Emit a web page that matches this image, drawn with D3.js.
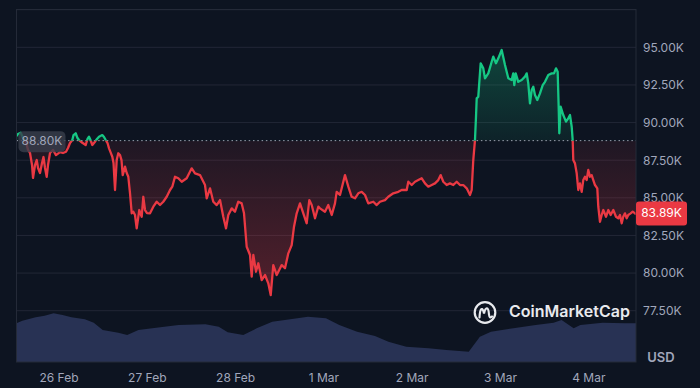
<!DOCTYPE html>
<html><head><meta charset="utf-8">
<script src="https://cdn.jsdelivr.net/npm/d3@7"></script>
<style>
html,body{margin:0;padding:0;background:#0d1421;}
svg{display:block;font-family:Inter,"Noto Sans",sans-serif;}
</style></head><body>
<svg id="chart" width="700" height="388"></svg>
<script>
// ---- data (hours from 26 Feb 00:00, price in thousand USD) ----
const priceHours = [-11.42,-11.01,-10.27,-9.65,-8.83,-8.29,-7.75,-7.20,-6.93,-6.39,-5.93,-5.57,-5.03,-4.48,-4.08,-3.67,-3.21,-2.85,-2.31,-1.49,-0.68,0.41,1.22,2.04,2.58,3.13,3.75,4.08,4.67,5.16,5.57,6.47,7.39,7.88,8.29,8.70,9.19,9.92,10.46,11.01,11.90,12.37,12.83,13.32,13.73,14.13,14.62,14.95,15.36,15.82,16.25,16.72,17.12,17.45,18.07,18.54,18.97,19.43,19.90,20.33,20.79,21.25,21.96,22.61,23.05,23.51,24.05,24.87,25.77,26.69,27.59,28.48,29.41,30.31,30.93,31.66,32.56,33.49,34.84,36.20,37.10,38.46,39.82,40.28,41.18,42.07,43.00,43.90,44.79,45.53,46.15,47.08,47.97,48.87,49.79,50.42,51.15,52.05,52.51,52.95,53.68,54.31,55.23,56.13,57.02,57.68,58.38,59.31,60.67,61.56,62.46,63.38,64.01,64.74,65.64,66.54,67.46,68.17,68.82,69.72,70.61,71.08,72.43,73.33,74.26,75.15,75.61,76.51,77.87,78.77,79.69,80.59,81.49,82.41,83.31,84.20,85.56,86.49,87.38,88.74,89.64,91.00,92.36,93.28,94.64,95.08,96.00,96.90,97.79,98.72,99.62,100.51,101.44,102.33,103.23,103.88,104.59,105.51,106.41,107.31,108.23,109.13,110.02,110.95,111.85,112.31,112.74,113.20,113.48,113.67,114.10,114.75,115.46,115.92,116.82,117.74,118.18,118.91,119.54,120.46,121.36,122.26,123.18,123.61,123.89,124.27,124.97,125.90,126.79,127.26,127.69,128.15,128.62,129.05,129.51,130.14,130.87,131.61,132.23,133.13,134.05,134.68,135.22,135.68,135.95,136.12,136.50,137.20,137.94,138.56,139.03,139.49,139.76,139.92,140.38,140.85,141.28,141.74,142.21,142.64,143.10,143.56,144.00,144.46,144.92,145.36,145.82,146.45,146.72,147.18,147.64,148.08,148.81,149.44,150.09,150.80,151.53,152.15,152.61,153.08,153.50,153.97,154.44,154.87,155.52,156.07,156.69,156.97];
const pricesK = [89.11,89.24,89.33,88.97,88.71,88.18,87.98,87.18,86.32,87.18,87.51,86.98,86.65,87.31,87.71,86.98,86.40,87.18,87.98,88.18,87.84,88.04,87.98,88.06,88.31,88.64,88.84,89.17,89.29,88.97,88.84,88.66,88.51,88.91,89.06,88.84,88.51,88.73,88.91,89.06,89.17,89.04,88.84,88.64,88.29,88.04,87.73,87.31,85.52,87.51,87.96,87.84,87.51,86.51,87.07,86.65,86.40,85.32,83.97,84.08,83.86,82.97,84.19,83.74,85.07,84.19,83.99,83.97,84.41,84.74,84.52,84.74,85.07,85.52,85.74,86.40,86.30,86.07,86.30,86.96,86.63,86.51,85.85,84.97,85.63,84.74,84.52,84.85,83.74,82.97,83.86,84.30,84.08,84.74,84.63,83.97,81.75,81.20,79.76,81.20,80.09,80.65,79.54,79.87,79.32,78.54,80.53,79.87,80.53,80.32,81.31,81.86,83.08,83.97,84.63,83.97,83.31,84.85,84.52,83.64,84.41,84.30,84.08,84.52,83.86,84.63,85.40,85.19,86.51,85.74,85.07,84.97,85.30,85.40,85.19,84.63,84.74,84.52,84.74,84.85,85.07,85.30,85.40,85.52,85.52,86.07,85.85,86.07,86.18,86.30,85.96,85.74,85.85,85.96,86.18,86.51,86.07,85.85,85.96,85.85,86.07,85.85,85.85,85.63,85.19,85.52,87.51,88.84,90.39,91.61,91.72,93.94,93.60,92.94,93.27,94.04,94.38,93.94,94.27,94.82,93.82,92.94,92.83,93.27,92.49,93.27,92.71,92.83,93.05,93.27,92.61,91.28,92.16,92.38,91.83,91.50,91.94,92.49,92.71,93.16,93.27,93.27,93.60,93.38,91.05,89.29,91.05,90.50,90.06,90.28,90.50,89.72,88.84,87.51,87.29,86.63,85.52,85.96,85.40,86.18,86.40,86.18,86.85,86.40,86.51,86.18,85.85,85.63,84.41,83.41,83.86,84.19,83.74,84.19,83.86,84.19,83.74,83.64,83.86,83.31,83.74,83.97,83.64,83.86,83.97,84.08,83.97,83.89];
const volumeHours = [-11.42,-9.84,-6.20,-3.78,-1.33,1.09,3.51,7.15,9.58,12.01,16.25,18.67,21.72,26.57,32.64,39.93,43.56,45.99,50.23,53.87,58.11,62.98,67.81,72.68,76.32,81.16,86.02,89.67,94.52,100.59,105.43,111.50,114.54,117.55,123.64,129.70,134.57,136.74,140.03,141.85,147.91,153.97,156.97];
const volumesB = [44.7,47.7,51.6,53.4,56.2,54.2,51.6,49.3,45.3,36.9,33.8,31.2,36.9,39.6,42.7,43.5,40.7,34.3,31.2,38.9,46.5,49.3,52.3,50.4,42.7,35.0,30.0,23.4,17.7,15.8,13.8,11.9,29.2,35.0,38.9,42.7,45.3,48.5,38.9,42.7,45.3,44.7,44.7];
const dayTicks = ["2025-02-26","2025-02-27","2025-02-28","2025-03-01","2025-03-02","2025-03-03","2025-03-04"];
const priceTicksK = [77.5,80,82.5,85,87.5,90,92.5,95];
const gridTicksK = [77.5,80,82.5,85,87.5,90,92.5,95,97.5];
const baselineK = 88.80;
const lastPriceK = 83.89;
const currencyLabel = "USD";
const brandName = "CoinMarketCap";

// ---- layout ----
const plot = {left:16.5, right:636, top:9.5, bottom:362};
const GREEN = "#16c784", RED = "#ea3943", TXT = "#a1a7bb";
const base = Date.UTC(2025,1,26);
const toDate = h => new Date(base + h*3600e3);

const x = d3.scaleUtc().domain([toDate(-11.42), toDate(156.97)]).range([plot.left, plot.right]);
const y = d3.scaleLinear().domain([77.5, 97.5]).range([310.7, 9.7]);
const yVol = d3.scaleLinear().domain([0, 60]).range([plot.bottom, 310]);

const n = Math.min(priceHours.length, pricesK.length);
const data = d3.range(n).map(i => ({t: toDate(priceHours[i]), v: pricesK[i]}));
const vdata = d3.range(Math.min(volumeHours.length, volumesB.length)).map(i => ({t: toDate(volumeHours[i]), v: volumesB[i]}));

const svg = d3.select("#chart");
svg.append("rect").attr("width",700).attr("height",388).attr("fill","#0d1421");

const defs = svg.append("defs");
const by = y(baselineK);
defs.append("clipPath").attr("id","above").append("rect")
  .attr("x",plot.left).attr("y",plot.top).attr("width",plot.right-plot.left).attr("height",by-plot.top);
defs.append("clipPath").attr("id","below").append("rect")
  .attr("x",plot.left).attr("y",by).attr("width",plot.right-plot.left).attr("height",plot.bottom-by);

const gG = defs.append("linearGradient").attr("id","gfill").attr("gradientUnits","userSpaceOnUse")
  .attr("x1",0).attr("x2",0).attr("y1",y(95)).attr("y2",by);
gG.append("stop").attr("offset",0).attr("stop-color",GREEN).attr("stop-opacity",0.28);
gG.append("stop").attr("offset",1).attr("stop-color",GREEN).attr("stop-opacity",0.08);
const gR = defs.append("linearGradient").attr("id","rfill").attr("gradientUnits","userSpaceOnUse")
  .attr("x1",0).attr("x2",0).attr("y1",by).attr("y2",y(78.5));
gR.append("stop").attr("offset",0).attr("stop-color",RED).attr("stop-opacity",0.08);
gR.append("stop").attr("offset",1).attr("stop-color",RED).attr("stop-opacity",0.32);

// gridlines
svg.append("g").selectAll("line").data(gridTicksK).join("line")
  .attr("x1",plot.left).attr("x2",plot.right)
  .attr("y1",d=>y(d)).attr("y2",d=>y(d))
  .attr("stroke","#222736").attr("stroke-width",1);

// volume
svg.append("path").datum(vdata)
  .attr("d", d3.area().x(d=>x(d.t)).y0(plot.bottom).y1(d=>yVol(d.v)))
  .attr("fill","#283254");

// fills
const area = d3.area().x(d=>x(d.t)).y0(by).y1(d=>y(d.v));
svg.append("path").datum(data).attr("d",area).attr("fill","url(#gfill)").attr("clip-path","url(#above)");
svg.append("path").datum(data).attr("d",area).attr("fill","url(#rfill)").attr("clip-path","url(#below)");

// baseline
svg.append("line").attr("x1",plot.left).attr("x2",plot.right).attr("y1",by).attr("y2",by)
  .attr("stroke","#9aa0ae").attr("stroke-width",1).attr("stroke-dasharray","1.5,2.8");

// price line
const line = d3.line().x(d=>x(d.t)).y(d=>y(d.v));
svg.append("path").datum(data).attr("d",line).attr("fill","none").attr("stroke",GREEN)
  .attr("stroke-width",2.3).attr("stroke-linejoin","round").attr("clip-path","url(#above)");
svg.append("path").datum(data).attr("d",line).attr("fill","none").attr("stroke",RED)
  .attr("stroke-width",2.3).attr("stroke-linejoin","round").attr("clip-path","url(#below)");

// frame
svg.append("rect").attr("x",plot.left).attr("y",plot.top)
  .attr("width",plot.right-plot.left).attr("height",plot.bottom-plot.top)
  .attr("fill","none").attr("stroke","#242a38").attr("stroke-width",1);

// y axis
const yAxis = svg.append("g").attr("transform",`translate(${plot.right},0)`)
  .call(d3.axisRight(y).tickValues(priceTicksK).tickSize(0).tickPadding(7)
    .tickFormat(d => d.toFixed(2) + "K"));
yAxis.select(".domain").remove();
yAxis.selectAll("text").attr("fill",TXT).attr("font-size",12).attr("font-family","Inter,sans-serif");

// x axis
const xAxis = svg.append("g").attr("transform",`translate(0,${plot.bottom})`)
  .call(d3.axisBottom(x).tickValues(dayTicks.map(s=>new Date(s+"T00:00:00Z")))
    .tickSize(0).tickPadding(11).tickFormat(d3.utcFormat("%-d %b")));
xAxis.select(".domain").remove();
xAxis.selectAll("text").attr("fill",TXT).attr("font-size",12).attr("font-family","Inter,sans-serif");

// USD label
svg.append("text").attr("x",661).attr("y",358).attr("text-anchor","middle")
  .attr("dominant-baseline","middle").attr("fill",TXT).attr("font-size",13).attr("font-weight",600)
  .text(currencyLabel);

// baseline label (left)
svg.append("rect").attr("x",18.5).attr("y",by-9.5).attr("width",47).attr("height",21).attr("rx",5)
  .attr("fill","rgba(58,63,76,0.8)");
svg.append("text").attr("x",42).attr("y",by+1).attr("text-anchor","middle").attr("dominant-baseline","middle")
  .attr("fill",TXT).attr("font-size",12).text(baselineK.toFixed(2)+"K");

// last price label (right)
const ly = y(lastPriceK);
svg.append("rect").attr("x",plot.right).attr("y",ly-13).attr("width",51).attr("height",24).attr("rx",3)
  .attr("fill",RED);
svg.append("text").attr("x",plot.right+25.5).attr("y",ly-0.5).attr("text-anchor","middle").attr("dominant-baseline","middle")
  .attr("fill","#ffffff").attr("font-size",12).text(lastPriceK.toFixed(2)+"K");

// brand logo
const lg = svg.append("g").attr("transform","translate(485,312.5)");
lg.append("circle").attr("r",10.3).attr("fill","none").attr("stroke","#e8eaee").attr("stroke-width",2.2);
lg.append("path").attr("d","M-5.5,5 C-5,-5 -2.5,-6 -1,1 C0.5,-6 3.5,-6 4,2 C4.3,5 5.5,5.5 7,4")
  .attr("fill","none").attr("stroke","#e8eaee").attr("stroke-width",2.2).attr("stroke-linecap","round");
svg.append("text").attr("x",509).attr("y",313).attr("dominant-baseline","middle")
  .attr("fill","#e8eaee").attr("font-size",16).attr("font-weight",600).text(brandName);
</script>
</body></html>
